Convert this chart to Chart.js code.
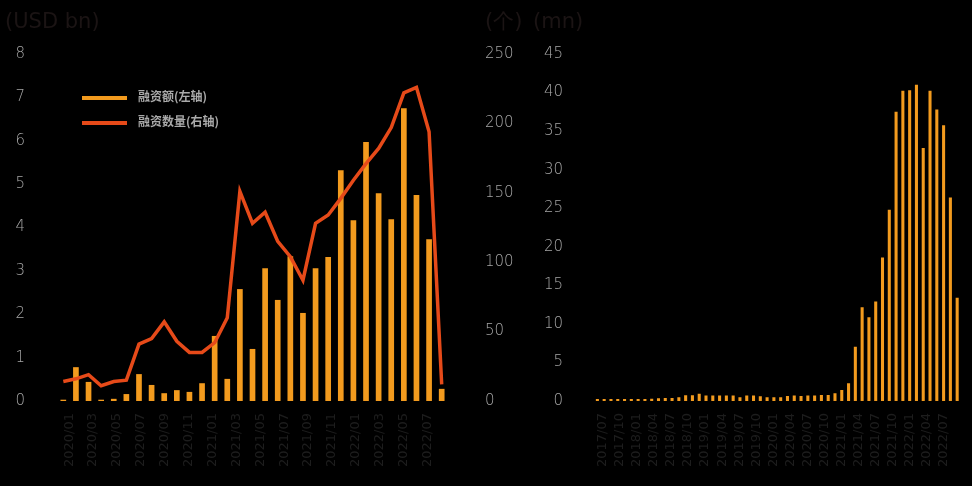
<!DOCTYPE html>
<html>
<head>
<meta charset="utf-8">
<script src="https://cdn.jsdelivr.net/npm/chart.js@4"></script>
<style>
  html, body { margin: 0; padding: 0; background: #000; }
  body { width: 972px; height: 486px; position: relative; overflow: hidden; }
  #c1 { position: absolute; left: 0; top: 0; }
  #c2 { position: absolute; left: 530px; top: 0; }
  .lg { position: absolute; left: 82px; height: 22px; }
  .lg i { position: absolute; left: 0; top: 9px; width: 45px; height: 4px; }
  .lg span { position: absolute; left: 56px; top: 0; line-height: 22px; white-space: nowrap;
    font: bold 12px "Noto Sans CJK SC", sans-serif; color: #a9a9a9; }
</style>
</head>
<body>
<canvas id="c1" width="530" height="486"></canvas>
<canvas id="c2" width="442" height="486"></canvas>
<div class="lg" style="top:87px"><i style="background:#f39b1e"></i><span>融资额(左轴)</span></div>
<div class="lg" style="top:112px"><i style="background:#e64a19"></i><span>融资数量(右轴)</span></div>
<script>
// left panel: monthly 2020/01 - 2022/07
const leftMonths = ['2020/01','2020/02','2020/03','2020/04','2020/05','2020/06','2020/07','2020/08','2020/09','2020/10','2020/11','2020/12',
  '2021/01','2021/02','2021/03','2021/04','2021/05','2021/06','2021/07','2021/08','2021/09','2021/10','2021/11','2021/12',
  '2022/01','2022/02','2022/03','2022/04','2022/05','2022/06','2022/07'];
const fundingAmount = [0.03, 0.78, 0.44, 0.03, 0.05, 0.16, 0.62, 0.37, 0.18, 0.25, 0.21, 0.41, 1.5, 0.51, 2.58, 1.2,
  3.06, 2.33, 3.34, 2.03, 3.06, 3.32, 5.32, 4.17, 5.97, 4.79, 4.19, 6.75, 4.75, 3.73, 0.28];
const fundingCount = [14, 16, 19, 11, 14, 15, 41, 45, 57, 43, 35, 35, 42, 60, 151, 128,
  136, 115, 104, 87, 128, 134, 146, 159, 171, 182, 197, 222, 226, 194, 12];
const leftTickLabels = ['2020/01','2020/03','2020/05','2020/07','2020/09','2020/11','2021/01','2021/03',
  '2021/05','2021/07','2021/09','2021/11','2022/01','2022/03','2022/05','2022/07'];

// right panel
const rightValues = [0.25, 0.25, 0.25, 0.25, 0.25, 0.25, 0.25, 0.25, 0.3, 0.35, 0.4, 0.4, 0.5, 0.75, 0.75, 0.95,
  0.7, 0.7, 0.7, 0.7, 0.7, 0.5, 0.7, 0.7, 0.6, 0.5, 0.5, 0.5, 0.65, 0.7, 0.65, 0.7, 0.7,
  0.78, 0.78, 1.0, 1.43, 2.3, 7.05, 12.15, 10.85, 12.9, 18.6, 24.8, 37.5, 40.25, 40.3, 41.0, 32.8, 40.25, 37.8, 35.75, 26.4, 13.4];
const rightTickLabels = ['2017/07','2017/10','2018/01','2018/04','2018/07','2018/10','2019/01','2019/04','2019/07','2019/10',
  '2020/01','2020/04','2020/07','2020/10','2021/01','2021/04','2021/07','2021/10','2022/01','2022/04','2022/07'];

const ORANGE = '#f39b1e';
const RED = '#e64a19';
const tickFont = { family: 'DejaVu Sans', size: 15, weight: 200 };
const dateFont = { family: 'DejaVu Sans', size: 13 };

// unit captions above the axes
const unitTitles = {
  id: 'unitTitles',
  afterDraw(chart, args, opts) {
    const ctx = chart.ctx;
    ctx.save();
    ctx.font = '21px "DejaVu Sans"';
    ctx.fillStyle = '#1b1414';
    ctx.textBaseline = 'middle';
    opts.items.forEach(t => ctx.fillText(t.text, t.x, 23));
    ctx.restore();
  }
};

new Chart(document.getElementById('c1'), {
  type: 'bar',
  plugins: [unitTitles],
  data: {
    labels: leftMonths,
    datasets: [{
      type: 'line',
      label: '融资数量(右轴)',
      data: fundingCount,
      yAxisID: 'y1',
      borderColor: RED,
      borderWidth: 3.5,
      pointRadius: 0,
      tension: 0,
      order: 0
    }, {
      type: 'bar',
      label: '融资额(左轴)',
      data: fundingAmount,
      yAxisID: 'y',
      backgroundColor: ORANGE,
      categoryPercentage: 1,
      barPercentage: 0.45,
      order: 1
    }]
  },
  options: {
    responsive: false,
    animation: false,
    layout: { padding: { top: 54, left: 0, right: 0, bottom: 0 } },
    plugins: {
      legend: { display: false },
      tooltip: { enabled: false },
      unitTitles: { items: [{ text: '(USD bn)', x: 5 }, { text: '(个)', x: 485 }] }
    },
    scales: {
      x: { display: false },
      x2: {
        type: 'linear', position: 'bottom', min: 0, max: 30.7,
        grid: { display: false, drawTicks: false }, border: { display: false },
        ticks: {
          stepSize: 2, includeBounds: false, autoSkip: false,
          minRotation: 90, maxRotation: 90, padding: 12,
          color: '#1d1d1d', font: dateFont,
          callback: v => leftTickLabels[Math.round(v / 2)] || ''
        },
        afterFit: s => { s.height = 85; }
      },
      y: {
        position: 'left', min: 0, max: 8,
        grid: { display: false, drawTicks: false }, border: { display: false },
        ticks: { stepSize: 1, padding: 32, color: '#a6a6a6', font: tickFont },
        afterFit: s => { s.width = 57; }
      },
      y1: {
        position: 'right', min: 0, max: 250,
        grid: { display: false, drawTicks: false }, border: { display: false },
        ticks: { stepSize: 50, padding: 37, color: '#a6a6a6', font: tickFont },
        afterFit: s => { s.width = 82; }
      }
    }
  }
});

new Chart(document.getElementById('c2'), {
  type: 'bar',
  plugins: [unitTitles],
  data: {
    labels: rightValues.map((v, i) => i),
    datasets: [{
      data: rightValues,
      backgroundColor: ORANGE,
      categoryPercentage: 1,
      barPercentage: 0.45
    }]
  },
  options: {
    responsive: false,
    animation: false,
    layout: { padding: { top: 54, left: 0, right: 8, bottom: 0 } },
    plugins: {
      legend: { display: false },
      tooltip: { enabled: false },
      unitTitles: { items: [{ text: '(mn)', x: 3 }] }
    },
    scales: {
      x: { display: false },
      x2: {
        type: 'linear', position: 'bottom', min: 0, max: 61.4,
        grid: { display: false, drawTicks: false }, border: { display: false },
        ticks: {
          stepSize: 3, includeBounds: false, autoSkip: false,
          minRotation: 90, maxRotation: 90, padding: 12,
          color: '#1d1d1d', font: dateFont,
          callback: v => rightTickLabels[Math.round(v / 3)] || ''
        },
        afterFit: s => { s.height = 85; }
      },
      y: {
        position: 'left', min: 0, max: 45,
        grid: { display: false, drawTicks: false }, border: { display: false },
        ticks: { stepSize: 5, padding: 31, color: '#a6a6a6', font: tickFont },
        afterFit: s => { s.width = 64; }
      }
    }
  }
});
</script>
</body>
</html>
